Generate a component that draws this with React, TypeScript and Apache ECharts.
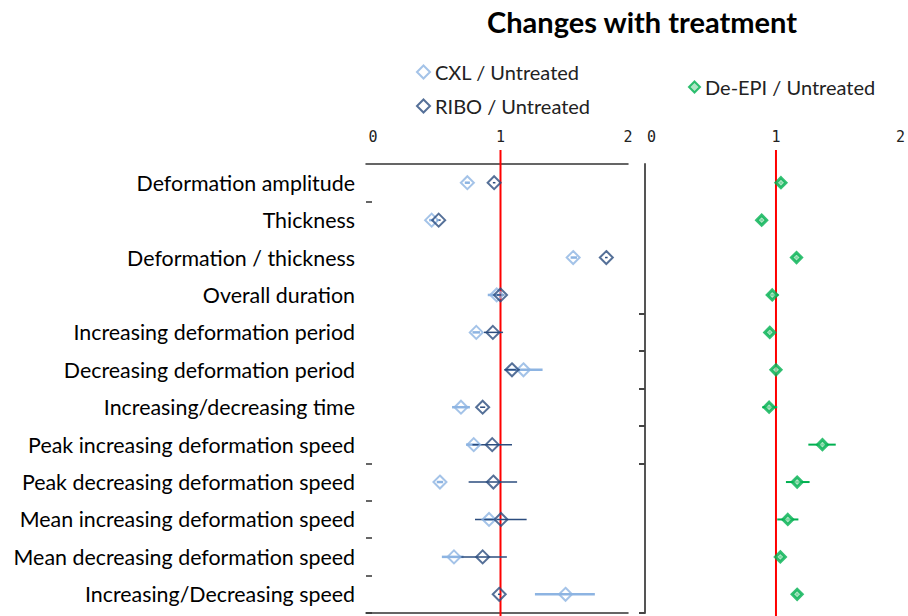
import React, { useEffect, useRef } from "react";
import * as echarts from "echarts";

const categories = [
  "Deformation amplitude",
  "Thickness",
  "Deformation / thickness",
  "Overall duration",
  "Increasing deformation period",
  "Decreasing deformation period",
  "Increasing/decreasing time",
  "Peak increasing deformation speed",
  "Peak decreasing deformation speed",
  "Mean increasing deformation speed",
  "Mean decreasing deformation speed",
  "Increasing/Decreasing speed",
];

const cxlValues = [0.74, 0.46, 1.57, 0.97, 0.81, 1.18, 0.69, 0.79, 0.525, 0.91, 0.635, 1.51];
const cxlLow = [0.72, 0.44, 1.55, 0.9, 0.78, 1.04, 0.62, 0.73, 0.5, 0.86, 0.54, 1.27];
const cxlHigh = [0.76, 0.48, 1.6, 1.0, 0.84, 1.33, 0.76, 0.84, 0.55, 0.96, 0.71, 1.74];

const riboValues = [0.95, 0.515, 1.83, 1.0, 0.94, 1.09, 0.86, 0.935, 0.944, 1.004, 0.86, 0.99];
const riboLow = [0.94, 0.5, 1.82, 0.97, 0.87, 1.03, 0.84, 0.78, 0.75, 0.8, 0.68, 0.98];
const riboHigh = [0.96, 0.53, 1.84, 1.03, 1.02, 1.15, 0.88, 1.09, 1.13, 1.205, 1.05, 1.0];

const epiValues = [1.04, 0.885, 1.165, 0.97, 0.95, 1.0, 0.945, 1.373, 1.17, 1.095, 1.035, 1.17];
const epiLow = [1.03, 0.875, 1.155, 0.94, 0.94, 0.99, 0.89, 1.26, 1.08, 1.01, 1.025, 1.16];
const epiHigh = [1.05, 0.895, 1.175, 1.02, 0.96, 1.01, 1.01, 1.48, 1.27, 1.18, 1.045, 1.18];

const xTickValues = [0, 1, 2];
const referenceValue = [1];
const leftTickIndices = [1, 8, 9, 10, 11];
const rightTickIndices = [4, 5, 6, 7, 8];

const CXL = "#8DB4E2";
const RIBO = "#2B4C7E";
const EPI = "#00B050";

export default function App() {
  const ref = useRef<HTMLDivElement>(null);
  useEffect(() => {
    const chart = echarts.init(ref.current!, null, { renderer: "svg" });

    const errRender = (color: string, width: number) => (params: any, api: any) => {
      const y = api.value(0);
      const p1 = api.coord([api.value(1), y]);
      const p2 = api.coord([api.value(2), y]);
      return {
        type: "line",
        shape: { x1: p1[0], y1: p1[1], x2: p2[0], y2: p2[1] },
        style: { stroke: color, lineWidth: width },
      };
    };
    const refRender = (params: any, api: any) => {
      const cs = params.coordSys;
      const p = api.coord([api.value(0), 0]);
      return {
        type: "line",
        shape: { x1: p[0], y1: cs.y - 14, x2: p[0], y2: cs.y + cs.height + 4 },
        style: { stroke: "#FF0000", lineWidth: 2 },
      };
    };
    const errData = (low: number[], high: number[]) => low.map((l, i) => [i, l, high[i]]);

    const xBase = {
      type: "value",
      min: -0.055,
      max: 2,
      splitLine: { show: false },
      axisTick: { show: false },
    };

    chart.setOption({
      animation: false,
      title: {
        text: "Changes with treatment",
        left: 637,
        textAlign: "center",
        top: 2,
        textStyle: { fontFamily: "Lato", fontWeight: "bold", fontSize: 29, color: "#000" },
      },
      legend: [
        {
          left: 411,
          top: 57,
          orient: "vertical",
          itemGap: 14,
          itemWidth: 13,
          itemHeight: 13,
          data: ["CXL / Untreated", "RIBO / Untreated"],
          textStyle: { fontFamily: "Lato", fontSize: 20, color: "#222" },
        },
        {
          left: 683,
          top: 72,
          itemWidth: 11,
          itemHeight: 11,
          data: ["De-EPI / Untreated"],
          textStyle: { fontFamily: "Lato", fontSize: 20, color: "#222" },
        },
      ],
      grid: [
        { left: 366, top: 164, width: 262, height: 449 },
        { left: 645, top: 164, width: 260, height: 449 },
      ],
      xAxis: [
        {
          ...xBase,
          gridIndex: 0,
          position: "top",
          axisLine: { show: true, lineStyle: { color: "#333", width: 1.5 } },
          axisLabel: {
            customValues: xTickValues,
            margin: 20,
            fontFamily: "DejaVu Sans Mono",
            fontSize: 15,
            color: "#222",
          },
        },
        {
          ...xBase,
          gridIndex: 0,
          position: "bottom",
          axisLine: { show: true, lineStyle: { color: "#333", width: 1.5 } },
          axisLabel: { show: false },
        },
        {
          ...xBase,
          gridIndex: 1,
          min: -0.052,
          position: "top",
          axisLine: { show: false },
          axisLabel: {
            customValues: xTickValues,
            margin: 20,
            fontFamily: "DejaVu Sans Mono",
            fontSize: 15,
            color: "#222",
          },
        },
      ],
      yAxis: [
        {
          type: "category",
          gridIndex: 0,
          data: categories,
          inverse: true,
          axisLine: { show: false, onZero: false },
          axisTick: {
            show: true,
            inside: true,
            length: 6,
            interval: (i: number) => leftTickIndices.includes(i),
            lineStyle: { color: "#333", width: 1.5 },
          },
          axisLabel: { margin: 11, fontFamily: "Lato", fontSize: 21.4, color: "#000" },
          splitLine: { show: false },
        },
        {
          type: "category",
          gridIndex: 1,
          data: categories,
          inverse: true,
          axisLine: { show: true, onZero: false, lineStyle: { color: "#555", width: 2 } },
          axisTick: {
            show: true,
            length: 6,
            interval: (i: number) => rightTickIndices.includes(i),
            lineStyle: { color: "#444", width: 2 },
          },
          axisLabel: { show: false },
          splitLine: { show: false },
        },
      ],
      series: [
        {
          type: "custom",
          xAxisIndex: 0,
          yAxisIndex: 0,
          renderItem: refRender,
          data: referenceValue.map((v) => [v]),
          silent: true,
          z: 1,
        },
        {
          type: "custom",
          xAxisIndex: 2,
          yAxisIndex: 1,
          renderItem: refRender,
          data: referenceValue.map((v) => [v]),
          silent: true,
          z: 1,
        },
        {
          type: "scatter",
          name: "CXL / Untreated",
          xAxisIndex: 0,
          yAxisIndex: 0,
          symbol: "diamond",
          symbolSize: 13,
          itemStyle: { color: "rgba(255,255,255,0)", borderColor: CXL, borderWidth: 2 },
          data: cxlValues.map((v, i) => [v, i]),
          z: 3,
        },
        {
          type: "scatter",
          name: "RIBO / Untreated",
          xAxisIndex: 0,
          yAxisIndex: 0,
          symbol: "diamond",
          symbolSize: 13,
          itemStyle: { color: "rgba(255,255,255,0)", borderColor: RIBO, borderWidth: 2 },
          data: riboValues.map((v, i) => [v, i]),
          z: 4,
        },
        {
          type: "scatter",
          name: "De-EPI / Untreated",
          xAxisIndex: 2,
          yAxisIndex: 1,
          symbol: "diamond",
          symbolSize: 10,
          itemStyle: { color: "#9be0b6", borderColor: EPI, borderWidth: 3 },
          data: epiValues.map((v, i) => [v, i]),
          z: 3,
        },
        {
          type: "custom",
          xAxisIndex: 0,
          yAxisIndex: 0,
          renderItem: errRender(CXL, 2.5),
          encode: { x: [1, 2], y: 0 },
          data: errData(cxlLow, cxlHigh),
          z: 2,
        },
        {
          type: "custom",
          xAxisIndex: 0,
          yAxisIndex: 0,
          renderItem: errRender(RIBO, 1.5),
          encode: { x: [1, 2], y: 0 },
          data: errData(riboLow, riboHigh),
          z: 2,
        },
        {
          type: "custom",
          xAxisIndex: 2,
          yAxisIndex: 1,
          renderItem: errRender(EPI, 2),
          encode: { x: [1, 2], y: 0 },
          data: errData(epiLow, epiHigh),
          z: 2,
        },
      ],
    });
    return () => chart.dispose();
  }, []);
  return (
    <div
      ref={ref}
      style={{ position: "fixed", left: 0, top: 0, width: 908, height: 616, background: "#fff" }}
    />
  );
}
